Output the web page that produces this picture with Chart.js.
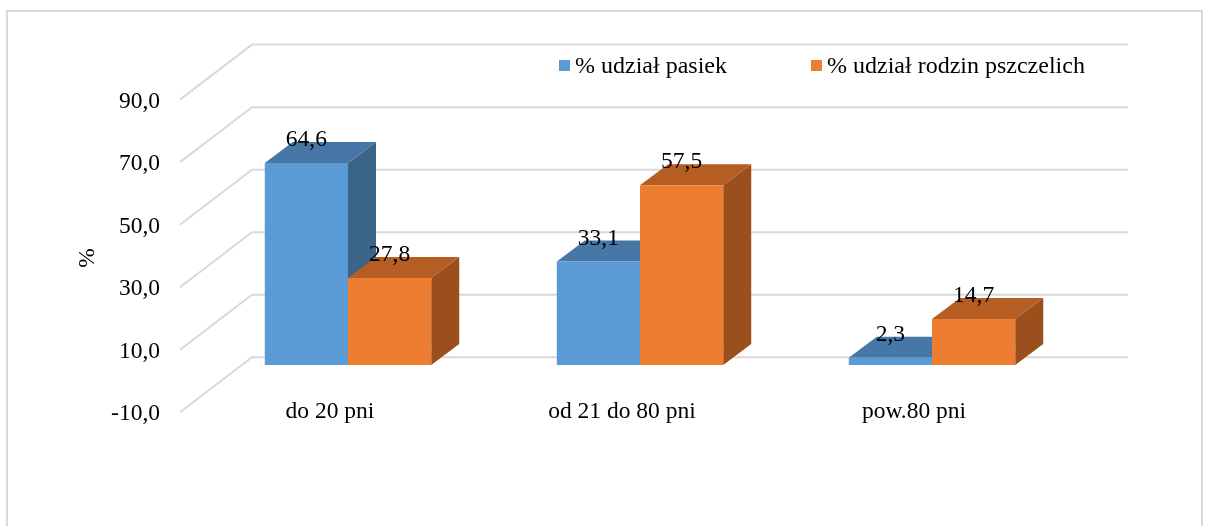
<!DOCTYPE html>
<html>
<head>
<meta charset="utf-8">
<script src="https://cdn.jsdelivr.net/npm/chart.js@4"></script>
<style>
  html, body { margin: 0; padding: 0; background: #fff; }
  #wrap { position: relative; width: 1206px; height: 526px; overflow: hidden; }
  #frame { position: absolute; left: 6px; top: 10px; width: 1197px; height: 540px; border: 2px solid #d9d9d9; box-sizing: border-box; }
  canvas { position: absolute; left: 0; top: 0; }
  .lg { position: absolute; font-family: "Liberation Serif", "Times New Roman", serif; font-size: 24px; color: #000; line-height: 28px; white-space: nowrap; }
  .sw { position: absolute; width: 11px; height: 11px; }
</style>
</head>
<body>
<div id="wrap">
  <div id="frame"></div>
  <canvas id="c" width="1206" height="526"></canvas>
  <div id="legend"></div>
</div>
<script>
// ---- data ----
const categories = ['do 20 pni', 'od 21 do 80 pni', 'pow.80 pni'];
const seriesNames = ['% udział pasiek', '% udział rodzin pszczelich'];
const pasieki = [64.6, 33.1, 2.3];
const rodziny = [27.8, 57.5, 14.7];
const yMin = -10, yMax = 90, yStep = 20;
const yAxisTitle = '%';

// ---- styles ----
const FONT = '"Liberation Serif", "Times New Roman", serif';
const FS = 23.5;
const frontColors = ['#5B9BD5', '#ED7D31'];
const topColors = ['#4677A6', '#B55D22'];
const sideColors = ['#3A6488', '#9A4F1D'];
const GRID = '#d9d9d9';
const DEPTH_X = 28, DEPTH_Y = -21;          // bar extrusion
const WALL_BACK_X = 50, WALL_BACK_Y = -39;  // back wall offset from bar plane
const WALL_FRONT_X = -22, WALL_FRONT_Y = 16; // front floor edge offset

// HTML legend
const legendEl = document.getElementById('legend');
const legendPos = [{sq: 559, tx: 575}, {sq: 811, tx: 827}];
seriesNames.forEach((n, i) => {
  const s = document.createElement('div');
  s.className = 'sw'; s.style.left = legendPos[i].sq + 'px'; s.style.top = '60px'; s.style.background = frontColors[i];
  const t = document.createElement('div');
  t.className = 'lg'; t.style.left = legendPos[i].tx + 'px'; t.style.top = '51px'; t.textContent = n;
  legendEl.appendChild(s); legendEl.appendChild(t);
});

const fmt = v => Number(v).toFixed(1).replace('.', ',');

const threeD = {
  id: 'threeD',
  beforeDatasetsDraw(chart) {
    const ctx = chart.ctx, ca = chart.chartArea, ys = chart.scales.y;
    ctx.save();
    ctx.strokeStyle = GRID; ctx.lineWidth = 2;
    ys.ticks.forEach(t => {
      const y = ys.getPixelForValue(t.value);
      ctx.beginPath();
      ctx.moveTo(ca.left + WALL_FRONT_X, y + WALL_FRONT_Y);
      ctx.lineTo(ca.left + WALL_BACK_X, y + WALL_BACK_Y);
      ctx.lineTo(ca.right + WALL_BACK_X, y + WALL_BACK_Y);
      ctx.stroke();
    });
    // extrusions (side + top), drawn behind the library's front faces
    const n = categories.length;
    for (let j = 0; j < n; j++) {
      chart.data.datasets.forEach((ds, i) => {
        const el = chart.getDatasetMeta(i).data[j];
        const l = el.x - el.width / 2, r = el.x + el.width / 2, top = el.y, base = el.base;
        ctx.fillStyle = sideColors[i];
        ctx.beginPath();
        ctx.moveTo(r, top); ctx.lineTo(r + DEPTH_X, top + DEPTH_Y);
        ctx.lineTo(r + DEPTH_X, base + DEPTH_Y); ctx.lineTo(r, base); ctx.closePath(); ctx.fill();
        ctx.fillStyle = topColors[i];
        ctx.beginPath();
        ctx.moveTo(l, top); ctx.lineTo(r, top);
        ctx.lineTo(r + DEPTH_X, top + DEPTH_Y); ctx.lineTo(l + DEPTH_X, top + DEPTH_Y); ctx.closePath(); ctx.fill();
      });
    }
    ctx.restore();
  },
  afterDatasetsDraw(chart) {
    const ctx = chart.ctx;
    ctx.save();
    ctx.font = FS + 'px ' + FONT;
    ctx.fillStyle = '#000';
    ctx.textAlign = 'center';
    ctx.textBaseline = 'middle';
    chart.data.datasets.forEach((ds, i) => {
      chart.getDatasetMeta(i).data.forEach((el, j) => {
        ctx.fillText(fmt(ds.data[j]), el.x, el.y + DEPTH_Y - 2);
      });
    });
    // y axis title
    ctx.translate(88, 258);
    ctx.rotate(-Math.PI / 2);
    ctx.fillText(yAxisTitle, 0, 0);
    ctx.restore();
  }
};

new Chart(document.getElementById('c'), {
  type: 'bar',
  data: {
    labels: categories,
    datasets: [
      { label: seriesNames[0], data: pasieki, backgroundColor: frontColors[0], borderWidth: 0 },
      { label: seriesNames[1], data: rodziny, backgroundColor: frontColors[1], borderWidth: 0 }
    ]
  },
  options: {
    responsive: false,
    animation: false,
    events: [],
    layout: { padding: { left: 0, right: 128, top: 83.6, bottom: 69.7 } },
    datasets: { bar: { categoryPercentage: 0.57, barPercentage: 1.0 } },
    plugins: { legend: { display: false }, tooltip: { enabled: false } },
    scales: {
      x: {
        grid: { display: false, drawTicks: false },
        border: { display: false },
        ticks: { font: { family: FONT, size: FS }, color: '#000', padding: 1, labelOffset: -18, maxRotation: 0 },
        afterFit(s) { s.height = 60; }
      },
      y: {
        min: yMin, max: yMax,
        grid: { display: false, drawTicks: false },
        border: { display: false },
        ticks: { stepSize: yStep, font: { family: FONT, size: FS }, color: '#000', padding: 42, labelOffset: 18, callback: v => fmt(v) },
        afterFit(s) { s.width = 202; }
      }
    }
  },
  plugins: [threeD]
});
</script>
</body>
</html>
